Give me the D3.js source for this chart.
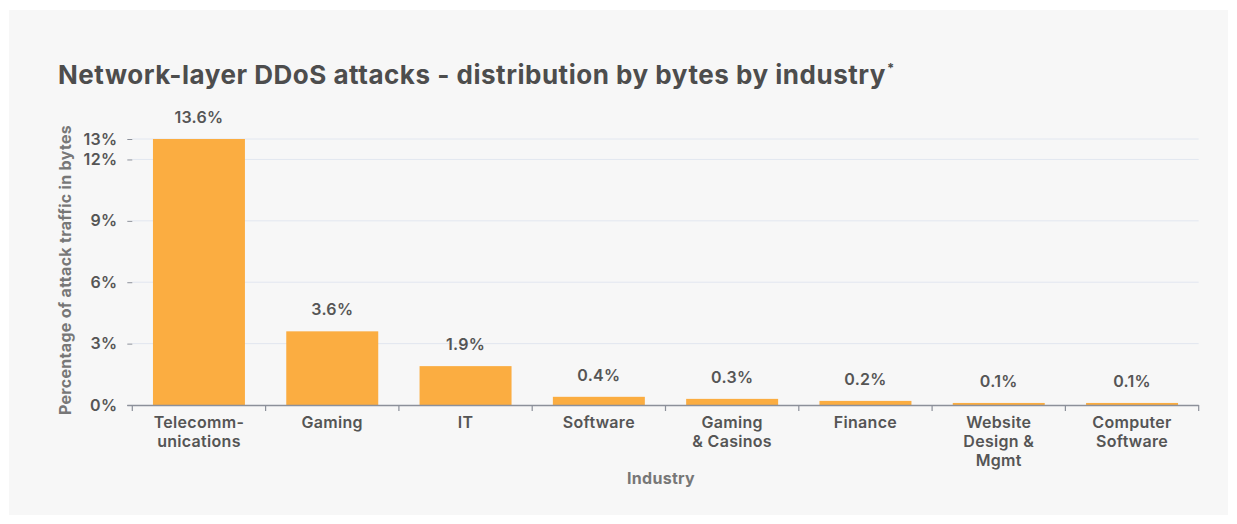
<!DOCTYPE html>
<html>
<head>
<meta charset="utf-8">
<script src="https://cdn.jsdelivr.net/npm/d3@7"></script>
<style>
  html, body { margin: 0; padding: 0; background: #ffffff; }
  svg { display: block; font-family: Inter, "Noto Sans", sans-serif; }
</style>
</head>
<body>
<svg id="chart" width="1237" height="524"></svg>
<script>
// Share of network-layer DDoS attack bytes per target industry
const categories = [
  ["Telecomm-", "unications"],
  ["Gaming"],
  ["IT"],
  ["Software"],
  ["Gaming", "& Casinos"],
  ["Finance"],
  ["Website", "Design &", "Mgmt"],
  ["Computer", "Software"]
];
const values = [13.6, 3.6, 1.9, 0.4, 0.3, 0.2, 0.1, 0.1];
const yTicks = [0, 3, 6, 9, 12, 13];

const svg = d3.select("#chart");
const plot = { left: 132.3, right: 1198.7, top: 139, bottom: 405 };
const labelFont = { size: 16, spacing: 0.3 };

// background card
svg.append("rect").attr("x", 9).attr("y", 10).attr("width", 1219).attr("height", 505)
  .attr("fill", "#f7f7f7");

// title, stretched to its intended line width
const title = svg.append("text").attr("x", 58).attr("y", 84)
  .attr("font-size", 26).attr("font-weight", 700).attr("fill", "#4d4d4d");
const titleMain = title.append("tspan")
  .text("Network-layer DDoS attacks - distribution by bytes by industry");
const titleWidth = titleMain.node().getComputedTextLength();
const titleChars = titleMain.text().length;
titleMain.attr("letter-spacing", (828 - titleWidth) / titleChars);
title.append("tspan").attr("font-size", 13).attr("dy", -11).attr("dx", 1).text("*");

const keys = categories.map((c, i) => i);
const x = d3.scaleBand().domain(keys).range([plot.left, plot.right])
  .paddingInner(0.31).paddingOuter(0.155);
const y = d3.scaleLinear().domain([0, 13]).range([plot.bottom, plot.top]).clamp(true);

// horizontal grid
svg.append("g").selectAll("line").data(yTicks.filter(t => t > 0)).join("line")
  .attr("x1", plot.left).attr("x2", plot.right)
  .attr("y1", d => y(d)).attr("y2", d => y(d))
  .attr("stroke", "#e2e7f0").attr("stroke-width", 1);

// y axis
const yAxis = svg.append("g").attr("transform", `translate(${plot.left},0)`)
  .call(d3.axisLeft(y).tickValues(yTicks).tickFormat(d => d + "%").tickSize(5).tickPadding(10));
yAxis.select(".domain").remove();
yAxis.selectAll(".tick line").attr("stroke", "#8c909a");
yAxis.selectAll(".tick text").attr("font-size", labelFont.size).attr("font-weight", 600)
  .attr("letter-spacing", labelFont.spacing)
  .attr("fill", "#555").attr("font-family", "Inter, sans-serif");

// bars
svg.append("g").selectAll("rect").data(values).join("rect")
  .attr("x", (d, i) => x(i)).attr("width", x.bandwidth())
  .attr("y", d => y(d)).attr("height", d => y(0) - y(d))
  .attr("fill", "#fbad41");

// value labels
svg.append("g").selectAll("text").data(values).join("text")
  .attr("x", (d, i) => x(i) + x.bandwidth() / 2)
  .attr("y", d => y(d) - 16)
  .attr("text-anchor", "middle").attr("font-size", labelFont.size).attr("font-weight", 600)
  .attr("letter-spacing", labelFont.spacing)
  .attr("fill", "#555").text(d => d.toFixed(1) + "%");

// x axis line with boundary ticks between categories
const step = x.step();
const gx = svg.append("g");
gx.append("line").attr("x1", plot.left - 5).attr("x2", plot.right)
  .attr("y1", plot.bottom + 0.5).attr("y2", plot.bottom + 0.5)
  .attr("stroke", "#8c909a").attr("stroke-width", 1.5);
gx.selectAll("line.tk").data(d3.range(categories.length + 1)).join("line")
  .attr("class", "tk")
  .attr("x1", i => plot.left + i * step).attr("x2", i => plot.left + i * step)
  .attr("y1", plot.bottom).attr("y2", plot.bottom + 6)
  .attr("stroke", "#8c909a").attr("stroke-width", 1.2);

// category labels
const lab = svg.append("g").selectAll("text").data(categories).join("text")
  .attr("x", (d, i) => x(i) + x.bandwidth() / 2)
  .attr("y", 428)
  .attr("text-anchor", "middle").attr("font-size", labelFont.size).attr("font-weight", 600)
  .attr("letter-spacing", labelFont.spacing)
  .attr("fill", "#555");
lab.selectAll("tspan").data(d => d).join("tspan")
  .attr("x", function () { return this.parentNode.getAttribute("x"); })
  .attr("dy", (d, i) => i === 0 ? 0 : 19)
  .text(d => d);

// axis titles
svg.append("text").attr("x", 661).attr("y", 484).attr("text-anchor", "middle")
  .attr("font-size", labelFont.size).attr("font-weight", 700).attr("letter-spacing", labelFont.spacing)
  .attr("fill", "#777").text("Industry");
svg.append("text").attr("transform", `translate(71,${(plot.top + plot.bottom) / 2 - 2}) rotate(-90)`)
  .attr("text-anchor", "middle").attr("font-size", labelFont.size).attr("font-weight", 700)
  .attr("letter-spacing", labelFont.spacing)
  .attr("fill", "#777").text("Percentage of attack traffic in bytes");
</script>
</body>
</html>
